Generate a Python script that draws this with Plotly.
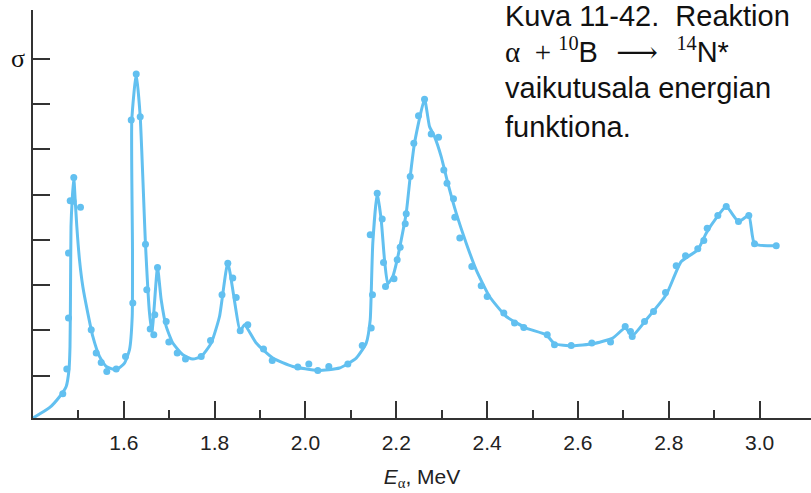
import plotly.graph_objects as go

# Measured cross-section points (energy in MeV, sigma in arbitrary units)
energy_pts = [1.4656, 1.4744, 1.4782, 1.4782, 1.4819, 1.4881, 1.4898, 1.5046, 1.5282, 1.5392,
              1.5502, 1.5625, 1.5832, 1.6037, 1.6198, 1.6163, 1.6273, 1.6361, 1.6477, 1.6506,
              1.6581, 1.6660, 1.6682, 1.6742, 1.6933, 1.6991, 1.7176, 1.7358, 1.7704, 1.7909,
              1.8162, 1.8290, 1.8400, 1.8475, 1.8563, 1.8730, 1.9076, 1.9268, 1.9831, 2.0074,
              2.0272, 2.0514, 2.0933, 2.1250, 2.1448, 2.1476, 2.1426, 2.1580, 2.1690, 2.1719,
              2.1763, 2.1950, 2.2020, 2.2086, 2.2197, 2.2219, 2.2307, 2.2386, 2.2489, 2.2622,
              2.2769, 2.2930, 2.3047, 2.3117, 2.3260, 2.3289, 2.3399, 2.3663, 2.3870, 2.4002,
              2.4368, 2.4604, 2.4808, 2.5324, 2.5484, 2.5852, 2.6306, 2.6718, 2.7041, 2.7158,
              2.7196, 2.7467, 2.7665, 2.7929, 2.8164, 2.8369, 2.8640, 2.8772, 2.8847, 2.9081,
              2.9266, 2.9536, 2.9763, 2.9889, 3.0367]
sigma_pts = [0.603, 1.148, 2.273, 3.707, 4.861, 4.850, 5.374, 4.717, 2.015, 1.501,
             1.293, 1.095, 1.148, 1.426, 2.604, 6.647, 7.662, 6.720, 3.905, 2.897,
             2.030, 1.904, 2.346, 3.389, 2.198, 1.743, 1.501, 1.368, 1.426, 1.779,
             2.787, 3.486, 3.155, 2.727, 1.993, 2.125, 1.589, 1.338, 1.192, 1.258,
             1.117, 1.205, 1.258, 1.668, 2.052, 2.787, 4.110, 5.030, 4.459, 3.499,
             2.970, 3.140, 3.559, 3.839, 4.353, 4.574, 5.397, 6.133, 6.742, 7.104,
             6.339, 6.266, 5.544, 5.251, 4.905, 4.501, 4.038, 3.411, 2.985, 2.749,
             2.383, 2.163, 2.066, 1.904, 1.684, 1.668, 1.721, 1.743, 2.088, 1.977,
             1.867, 2.198, 2.418, 2.838, 3.427, 3.647, 3.802, 3.985, 4.258, 4.536,
             4.735, 4.404, 4.536, 3.912, 3.868]

# Hand-fitted curve through the measurements
energy_fit = [1.4000, 1.4363, 1.4584, 1.4731, 1.4793, 1.4815, 1.4826, 1.4837, 1.4863, 1.4898,
              1.4929, 1.4965, 1.5024, 1.5097, 1.5207, 1.5317, 1.5464, 1.5612, 1.5832, 1.6015,
              1.6125, 1.6185, 1.6191, 1.6176, 1.6273, 1.6361, 1.6477, 1.6566, 1.6621, 1.6742,
              1.6823, 1.6933, 1.7079, 1.7299, 1.7519, 1.7704, 1.7924, 1.8107, 1.8290, 1.8563,
              1.8658, 1.8915, 1.9281, 1.9721, 2.0272, 2.0750, 2.1118, 2.1338, 2.1426, 2.1448,
              2.1483, 2.1580, 2.1668, 2.1741, 2.1813, 2.1924, 2.2020, 2.2109, 2.2219, 2.2307,
              2.2401, 2.2622, 2.2732, 2.2842, 2.2989, 2.3135, 2.3320, 2.3540, 2.3760, 2.4053,
              2.4421, 2.4861, 2.5302, 2.5484, 2.5887, 2.6328, 2.6768, 2.7041, 2.7196, 2.7504,
              2.7944, 2.8275, 2.8640, 2.8825, 2.9045, 2.9266, 2.9536, 2.9763, 2.9889, 3.0367]
sigma_fit = [0.067, 0.294, 0.537, 0.764, 1.132, 1.646, 2.831, 4.294, 4.883, 5.374,
             4.883, 4.294, 3.559, 2.970, 2.383, 1.867, 1.426, 1.205, 1.132, 1.280,
             1.574, 2.308, 3.780, 6.647, 7.662, 6.720, 3.905, 2.383, 1.971, 3.389,
             2.677, 2.088, 1.721, 1.463, 1.368, 1.426, 1.721, 2.308, 3.486, 1.993,
             2.125, 1.721, 1.390, 1.205, 1.117, 1.170, 1.390, 1.721, 2.235, 2.824,
             3.927, 5.030, 4.441, 3.559, 3.030, 3.191, 3.559, 4.000, 4.589, 5.397,
             6.133, 7.104, 6.500, 6.279, 5.838, 5.251, 4.589, 3.927, 3.338, 2.749,
             2.308, 2.052, 1.904, 1.706, 1.662, 1.706, 1.832, 2.052, 1.882, 2.235,
             2.787, 3.521, 3.780, 4.148, 4.479, 4.735, 4.404, 4.536, 3.912, 3.868]

x_major = [1.6, 1.8, 2.0, 2.2, 2.4, 2.6, 2.8, 3.0]
x_major_text = ["1.6", "1.8", "2.0", "2.2", "2.4", "2.6", "2.8", "3.0"]
x_minor = [1.5, 1.7, 1.9, 2.1, 2.3, 2.5, 2.7, 2.9]
y_ticks = [1, 2, 3, 4, 5, 6, 7, 8]

BLUE = "#62c0f0"
AXIS = "#333333"
SANS = "Liberation Sans, Arial, Helvetica, sans-serif"
SERIF = "Liberation Serif, Times New Roman, serif"

W, H = 811, 493
L, R, T, B = 33, 0, 10, 75
PW, PH = W - L - R, H - T - B

fig = go.Figure()
fig.add_trace(go.Scatter(x=energy_fit, y=sigma_fit, mode="lines",
                         line=dict(color=BLUE, width=3, shape="spline", smoothing=0.5),
                         hoverinfo="skip", showlegend=False))
fig.add_trace(go.Scatter(x=energy_pts, y=sigma_pts, mode="markers",
                         marker=dict(color=BLUE, size=7), showlegend=False))

fig.update_xaxes(range=[1.4, 1.4 + PW / 454.1], showgrid=False, zeroline=False,
                 showline=True, linecolor=AXIS, linewidth=2,
                 ticks="inside", ticklen=17, tickwidth=1.5, tickcolor=AXIS,
                 tickvals=x_major, ticktext=x_major_text,
                 tickfont=dict(family=SANS, size=21, color="#222"),
                 ticklabelstandoff=5,
                 minor=dict(tickvals=x_minor, ticks="inside", ticklen=8,
                            tickwidth=1.5, tickcolor=AXIS),
                 title=dict(text="<i>E</i><sub><span style='font-family:Liberation Serif'>α</span></sub>, MeV",
                            font=dict(family=SANS, size=21, color="#222"), standoff=16))

fig.update_yaxes(range=[0.067, 9.074], showgrid=False, zeroline=False,
                 showline=True, linecolor=AXIS, linewidth=2,
                 ticks="inside", ticklen=17, tickwidth=1.5, tickcolor=AXIS,
                 tickvals=y_ticks, showticklabels=False)


def px_x(px):
    return (px - L) / PW


def px_y(py):
    return (H - B - py) / PH


notes = [
    ("Kuva 11-42.  Reaktion", 16),
    ("<span style='font-family:Liberation Serif'>α  + <sup>10</sup></span>B"
     "<span style='font-family:DejaVu Serif'>  ⟶  </span>"
     "<span style='font-family:Liberation Serif'><sup>14</sup></span>N*", 51),
    ("vaikutusala energian", 87.5),
    ("funktiona.", 127),
]
for text, cy in notes:
    fig.add_annotation(text=text, xref="paper", yref="paper",
                       x=px_x(503), y=px_y(cy), xanchor="left", yanchor="middle",
                       showarrow=False, font=dict(family=SANS, size=29, color="#111"))

fig.add_annotation(text="σ", xref="paper", yref="y", x=0, y=8,
                   xanchor="right", yanchor="middle", xshift=-6, showarrow=False,
                   font=dict(family=SERIF, size=26, color="#111"))

fig.update_layout(width=W, height=H, margin=dict(l=L, r=R, t=T, b=B),
                  paper_bgcolor="white", plot_bgcolor="white")

fig.write_html("out.html")
